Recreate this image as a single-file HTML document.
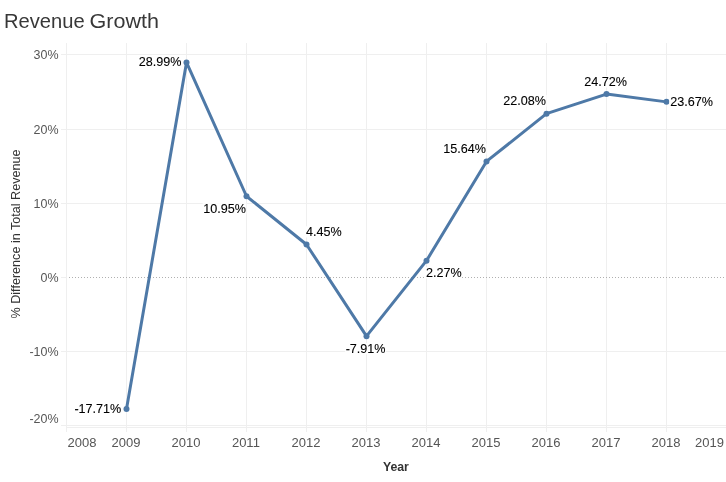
<!DOCTYPE html>
<html><head><meta charset="utf-8"><title>Revenue Growth</title>
<style>
html,body{margin:0;padding:0;background:#fff;}
body{width:726px;height:482px;overflow:hidden;}
svg{display:block;will-change:transform;}
text{font-family:"Liberation Sans",Arial,sans-serif;}
.ax{font-size:13px;fill:#555;}
.dl{font-size:12.6px;fill:#000;stroke:#000;stroke-width:0.1px;}
.title{font-size:20.8px;fill:#383838;}
.yt{font-size:12.6px;fill:#333;}
.xt{font-size:12.3px;fill:#333;font-weight:bold;}
</style></head>
<body>
<svg width="726" height="482" viewBox="0 0 726 482">
<text transform="translate(3.9,28) scale(0.97,1)" class="title">Revenue</text><text transform="translate(89.5,28) scale(1.037,1)" class="title">Growth</text>
<line x1="66.5" y1="43" x2="66.5" y2="432" stroke="#efefef" stroke-width="1"/>
<line x1="126.5" y1="43" x2="126.5" y2="432" stroke="#efefef" stroke-width="1"/>
<line x1="186.5" y1="43" x2="186.5" y2="432" stroke="#efefef" stroke-width="1"/>
<line x1="246.5" y1="43" x2="246.5" y2="432" stroke="#efefef" stroke-width="1"/>
<line x1="306.5" y1="43" x2="306.5" y2="432" stroke="#efefef" stroke-width="1"/>
<line x1="366.5" y1="43" x2="366.5" y2="432" stroke="#efefef" stroke-width="1"/>
<line x1="426.5" y1="43" x2="426.5" y2="432" stroke="#efefef" stroke-width="1"/>
<line x1="486.5" y1="43" x2="486.5" y2="432" stroke="#efefef" stroke-width="1"/>
<line x1="546.5" y1="43" x2="546.5" y2="432" stroke="#efefef" stroke-width="1"/>
<line x1="606.5" y1="43" x2="606.5" y2="432" stroke="#efefef" stroke-width="1"/>
<line x1="666.5" y1="43" x2="666.5" y2="432" stroke="#efefef" stroke-width="1"/>
<line x1="61" y1="54.5" x2="726" y2="54.5" stroke="#efefef" stroke-width="1"/>
<line x1="61" y1="129.5" x2="726" y2="129.5" stroke="#efefef" stroke-width="1"/>
<line x1="61" y1="203.5" x2="726" y2="203.5" stroke="#efefef" stroke-width="1"/>
<line x1="61" y1="351.5" x2="726" y2="351.5" stroke="#efefef" stroke-width="1"/>
<line x1="61" y1="425.5" x2="726" y2="425.5" stroke="#efefef" stroke-width="1"/>
<line x1="61" y1="277.5" x2="66" y2="277.5" stroke="#efefef" stroke-width="1"/>
<line x1="69" y1="277.5" x2="726" y2="277.5" stroke="#b0b0b0" stroke-width="1" stroke-dasharray="1 2"/>
<line x1="67" y1="427.5" x2="726" y2="427.5" stroke="#efefef" stroke-width="1"/>
<text transform="translate(58.5,59.1) scale(0.96,1)" text-anchor="end" class="ax">30%</text>
<text transform="translate(58.5,134.1) scale(0.96,1)" text-anchor="end" class="ax">20%</text>
<text transform="translate(58.5,208.1) scale(0.96,1)" text-anchor="end" class="ax">10%</text>
<text transform="translate(58.5,282.1) scale(0.96,1)" text-anchor="end" class="ax">0%</text>
<text transform="translate(58.5,356.1) scale(0.96,1)" text-anchor="end" class="ax">-10%</text>
<text transform="translate(58.5,423.1) scale(0.96,1)" text-anchor="end" class="ax">-20%</text>
<text x="67.5" y="447" class="ax">2008</text>
<text x="125.9" y="447" text-anchor="middle" class="ax">2009</text>
<text x="185.9" y="447" text-anchor="middle" class="ax">2010</text>
<text x="245.9" y="447" text-anchor="middle" class="ax">2011</text>
<text x="305.9" y="447" text-anchor="middle" class="ax">2012</text>
<text x="365.9" y="447" text-anchor="middle" class="ax">2013</text>
<text x="425.9" y="447" text-anchor="middle" class="ax">2014</text>
<text x="485.9" y="447" text-anchor="middle" class="ax">2015</text>
<text x="545.9" y="447" text-anchor="middle" class="ax">2016</text>
<text x="605.9" y="447" text-anchor="middle" class="ax">2017</text>
<text x="665.9" y="447" text-anchor="middle" class="ax">2018</text>
<text x="724" y="447" text-anchor="end" class="ax">2019</text>
<polyline points="126.50,408.91 186.50,62.39 246.50,196.25 306.50,244.48 366.50,336.19 426.50,260.66 486.50,161.45 546.50,113.67 606.50,94.08 666.50,101.87" fill="none" stroke="#4e79a7" stroke-width="3" stroke-linejoin="round" stroke-linecap="round"/>
<circle cx="126.50" cy="408.91" r="3" fill="#4e79a7"/>
<circle cx="186.50" cy="62.39" r="3" fill="#4e79a7"/>
<circle cx="246.50" cy="196.25" r="3" fill="#4e79a7"/>
<circle cx="306.50" cy="244.48" r="3" fill="#4e79a7"/>
<circle cx="366.50" cy="336.19" r="3" fill="#4e79a7"/>
<circle cx="426.50" cy="260.66" r="3" fill="#4e79a7"/>
<circle cx="486.50" cy="161.45" r="3" fill="#4e79a7"/>
<circle cx="546.50" cy="113.67" r="3" fill="#4e79a7"/>
<circle cx="606.50" cy="94.08" r="3" fill="#4e79a7"/>
<circle cx="666.50" cy="101.87" r="3" fill="#4e79a7"/>
<rect x="73.9" y="402.8" width="47.9" height="11.9" fill="#fff"/>
<text x="97.85" y="413.10" text-anchor="middle" class="dl">-17.71%</text>
<rect x="138.3" y="56.0" width="43.8" height="11.3" fill="#fff"/>
<text x="160.22" y="65.70" text-anchor="middle" class="dl">28.99%</text>
<rect x="202.7" y="203.2" width="43.7" height="11.1" fill="#fff"/>
<text x="224.55" y="212.70" text-anchor="middle" class="dl">10.95%</text>
<rect x="305.2" y="226.3" width="37.1" height="11.2" fill="#fff"/>
<text x="323.75" y="235.90" text-anchor="middle" class="dl">4.45%</text>
<rect x="345.2" y="343.2" width="40.8" height="11.1" fill="#fff"/>
<text x="365.60" y="352.70" text-anchor="middle" class="dl">-7.91%</text>
<rect x="425.6" y="267.0" width="36.3" height="11.5" fill="#fff"/>
<text x="443.75" y="276.90" text-anchor="middle" class="dl">2.27%</text>
<rect x="442.5" y="143.3" width="44.1" height="11.1" fill="#fff"/>
<text x="464.55" y="152.80" text-anchor="middle" class="dl">15.64%</text>
<rect x="502.4" y="95.0" width="44.2" height="11.5" fill="#fff"/>
<text x="524.50" y="104.90" text-anchor="middle" class="dl">22.08%</text>
<rect x="583.5" y="76.0" width="44.4" height="11.5" fill="#fff"/>
<text x="605.70" y="85.90" text-anchor="middle" class="dl">24.72%</text>
<rect x="669.3" y="96.2" width="44.4" height="11.4" fill="#fff"/>
<text x="691.50" y="106.00" text-anchor="middle" class="dl">23.67%</text>
<text transform="translate(20.2,234.0) rotate(-90)" text-anchor="middle" class="yt">% Difference in Total Revenue</text>
<text x="395.9" y="470.7" text-anchor="middle" class="xt">Year</text>
</svg>
</body></html>
